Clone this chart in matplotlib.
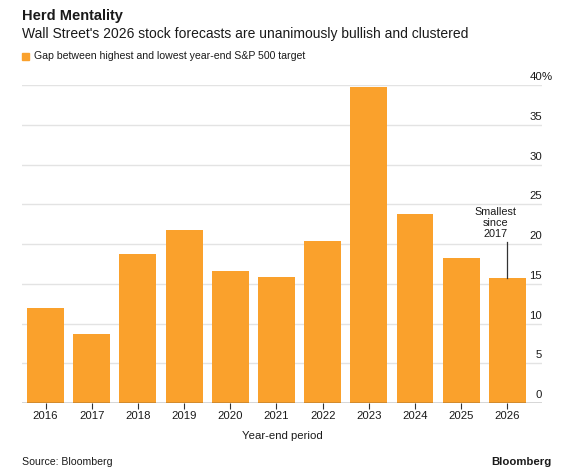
import matplotlib.pyplot as plt
from matplotlib.patches import Rectangle

# ---------------------------------------------------------
# Data
# ---------------------------------------------------------
years = ['2016', '2017', '2018', '2019', '2020', '2021',
         '2022', '2023', '2024', '2025', '2026']
gap_pct = [11.9, 8.7, 18.8, 21.8, 16.6, 15.8, 20.4, 39.7, 23.8, 18.3, 15.7]
y_ticks = [0, 5, 10, 15, 20, 25, 30, 35, 40]

bar_color = '#FAA12C'
grid_color = '#E3E3E3'
text_color = '#1A1A1A'

plt.rcParams['font.family'] = ['Liberation Sans', 'DejaVu Sans']

W, H = 574, 476
fig = plt.figure(figsize=(W / 100, H / 100), dpi=100)

# axes box in pixel terms
left, right, bottom, top = 22, 542, 403, 85
ax = fig.add_axes([left / W, 1 - bottom / H, (right - left) / W, (bottom - top) / H])

x = list(range(len(years)))
ax.bar(x, gap_pct, width=0.8, color=bar_color, zorder=2)

ax.set_xlim(-0.51, 10.75)
ax.set_ylim(0, 40)

# gridlines
for t in y_ticks[1:]:
    ax.axhline(t, color=grid_color, linewidth=1, zorder=1)
ax.axhline(0, color='#333333', linewidth=1, zorder=3)

for s in ax.spines.values():
    s.set_visible(False)
ax.set_yticks([])
ax.set_xticks(x)
ax.set_xticklabels(years, fontsize=8.2, color=text_color)
ax.tick_params(axis='x', length=4, width=0.8, color='#333333', pad=2)

# y labels sit above the gridlines, right aligned at the axis end
for t in y_ticks:
    ax.text(1.0, t + 1.0, f'{t}', transform=ax.get_yaxis_transform(),
            ha='right', va='center', fontsize=8.2, color=text_color)
ax.text(1.0, 40 + 1.0, '%', transform=ax.get_yaxis_transform(),
        ha='left', va='center', fontsize=8.2, color=text_color)

ax.set_xlabel('Year-end period', fontsize=8.2, color=text_color, labelpad=7)

# annotation on the last bar
last = len(years) - 1
ax.plot([last, last], [gap_pct[last], 20.3], color='#333333', linewidth=0.9, zorder=4)
ax.text(last - 0.25, 20.6, 'Smallest\nsince\n2017', ha='center', va='bottom',
        fontsize=7.8, color=text_color, linespacing=1.15, zorder=4,
        bbox=dict(facecolor='white', edgecolor='none', pad=0.5))

# titles and legend
fig.text(22 / W, 1 - 16 / H, 'Herd Mentality', fontsize=10.5, fontweight='bold',
         color=text_color, va='center', ha='left')
fig.text(22 / W, 1 - 34 / H,
         "Wall Street's 2026 stock forecasts are unanimously bullish and clustered",
         fontsize=10, color=text_color, va='center', ha='left')
fig.patches.append(Rectangle((22 / W, 1 - 60 / H), 7 / W, 7 / H,
                             transform=fig.transFigure, color=bar_color))
fig.text(34 / W, 1 - 56 / H,
         'Gap between highest and lowest year-end S&P 500 target',
         fontsize=7.6, color=text_color, va='center', ha='left')

fig.text(22 / W, 1 - 462 / H, 'Source: Bloomberg', fontsize=7.6,
         color=text_color, va='center', ha='left')
fig.text(552 / W, 1 - 462 / H, 'Bloomberg', fontsize=8.2, fontweight='bold',
         color=text_color, va='center', ha='right')

fig.savefig('out.png', dpi=100, facecolor='white')
